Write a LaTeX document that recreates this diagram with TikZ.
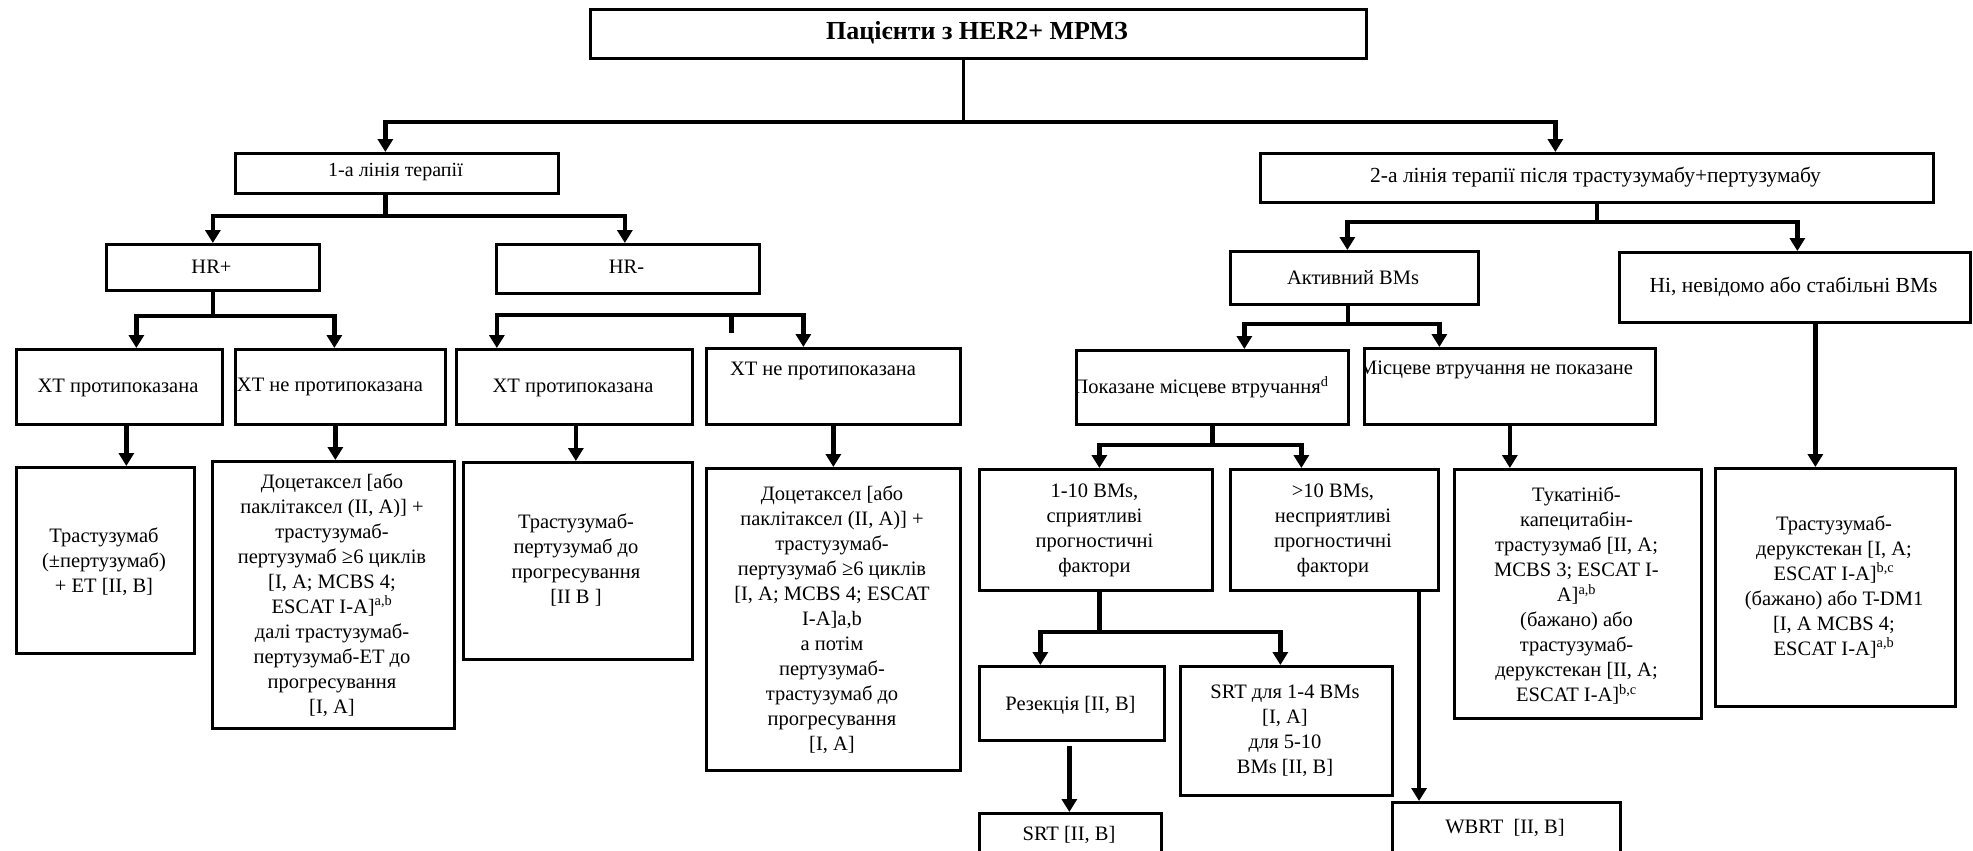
\documentclass[tikz,border=0pt]{standalone}
\usepackage{fontspec}
\setmainfont{Liberation Serif}
\usetikzlibrary{arrows.meta}

\tikzset{
  box/.style={draw, line width=2.7pt, inner sep=0pt, anchor=north west},
  txt/.style={align=center, inner sep=0pt, font=\fontsize{20.5}{25}\selectfont},
  link/.style={line width=4.3pt},
  stem/.style={line width=3pt},
  arr/.style={line width=4.3pt, -{Triangle[width=15pt,length=13pt]}},
}

% \bx{name}{x1}{y1}{x2}{y2}: framed box given by its corners (pixel units, y down)
\newcommand\bx[5]{%
  \node[box, minimum width={#4pt-#2pt}, minimum height={#5pt-#3pt}] (#1) at (#2,#3) {};}

\begin{document}
\begin{tikzpicture}[x=1pt,y=-1pt]
\useasboundingbox (0,0) rectangle (1973,851);
\clip (0,0) rectangle (1973,851);

% ---------- boxes ----------
\bx{top}{589}{8}{1365}{57}
\bx{L1}{234}{152}{557}{192}
\bx{L2}{1259}{152}{1932}{201}
\bx{HRp}{105}{243}{318}{289}
\bx{HRm}{495}{243}{758}{292}
\bx{Ap}{15}{348}{221}{423}
\bx{Bp}{234}{348}{444}{423}
\bx{Am}{455}{348}{691}{423}
\bx{Bm}{705}{347}{959}{423}
\bx{C1}{15}{466}{193}{652}
\bx{C2}{211}{460}{453}{727}
\bx{C3}{462}{461}{691}{658}
\bx{C4}{705}{467}{959}{769}
\bx{Act}{1229}{250}{1477}{303}
\bx{Ni}{1618}{251}{1969}{321}
\bx{Pok}{1075}{349}{1347}{423}
\bx{Mis}{1363}{347}{1654}{423}
\bx{R1}{978}{468}{1211}{589}
\bx{R2}{1229}{468}{1437}{589}
\bx{Tuk}{1453}{468}{1700}{717}
\bx{Tdx}{1714}{467}{1954}{705}
\bx{Rez}{978}{665}{1163}{739}
\bx{S14}{1179}{665}{1391}{794}
\bx{SRT}{978}{812}{1160}{880}
\bx{WB}{1391}{801}{1619}{880}

% ---------- texts ----------
\node[txt, font=\fontsize{26}{30}\selectfont\bfseries] (topt) at (977,33) {Пацієнти з HER2+ МРМЗ};
\node[txt, font=\fontsize{20}{25}\selectfont] (L1t) at (395.5,172) {1-а лінія терапії};
\node[txt, font=\fontsize{21.5}{25}\selectfont] (L2t) at (1595.5,177) {2-а лінія терапії після трастузумабу+пертузумабу};
\node[txt] (HRpt) at (211.5,267) {HR+};
\node[txt] (HRmt) at (626.5,267) {HR-};
\node[txt] (Apt) at (118,388) {ХТ протипоказана};
\node[txt] (Bpt) at (330,387) {ХТ не протипоказана};
\node[txt] (Amt) at (573,388) {ХТ протипоказана};
\node[txt] (Bmt) at (823,371) {ХТ не протипоказана};
\node[txt] (C1t) at (104,562) {Трастузумаб\\(±пертузумаб)\\+ ЕТ {[}II, B]};
\node[txt] (C2t) at (332,595) {Доцетаксел {[}або\\паклітаксел (II, A)] +\\трастузумаб-\\пертузумаб ≥6 циклів\\{}[I, A; MCBS 4;\\ESCAT I-A]\textsuperscript{a,b}\\далі трастузумаб-\\пертузумаб-ЕТ до\\прогресування\\{}[I, A]};
\node[txt] (C3t) at (576,560) {Трастузумаб-\\пертузумаб до\\прогресування\\{}[II B ]};
\node[txt] (C4t) at (832,620) {Доцетаксел {[}або\\паклітаксел (II, A)] +\\трастузумаб-\\пертузумаб ≥6 циклів\\{}[I, A; MCBS 4; ESCAT\\I-A]a,b\\а потім\\пертузумаб-\\трастузумаб до\\прогресування\\{}[I, A]};
\node[txt] (Actt) at (1353,278) {Активний BMs};
\node[txt, font=\fontsize{21.5}{25}\selectfont] (Nit) at (1793.5,287) {Ні, невідомо або стабільні BMs};
\begin{scope}
  \clip (Pok.north west) rectangle (Pok.south east);
  \node[txt] (Pokt) at (1201,387) {Показане місцеве втручання\textsuperscript{d}};
\end{scope}
\begin{scope}
  \clip (Mis.north west) rectangle (Mis.south east);
  \node[txt] (Mist) at (1496,370) {Місцеве втручання не показане};
\end{scope}
\node[txt] (R1t) at (1094.5,530) {1-10 BMs,\\сприятливі\\прогностичні\\фактори};
\node[txt] (R2t) at (1333,530) {>10 BMs,\\несприятливі\\прогностичні\\фактори};
\node[txt] (Tukt) at (1576.5,596) {Тукатініб-\\капецитабін-\\трастузумаб {[}II, A;\\MCBS 3; ESCAT I-\\A]\textsuperscript{a,b}\\(бажано) або\\трастузумаб-\\дерукстекан {[}II, A;\\ESCAT I-A]\textsuperscript{b,c}};
\node[txt] (Tdxt) at (1834,587) {Трастузумаб-\\дерукстекан {[}I, A;\\ESCAT I-A]\textsuperscript{b,c}\\(бажано) або T-DM1\\{}[I, A MCBS 4;\\ESCAT I-A]\textsuperscript{a,b}};
\node[txt] (Rezt) at (1070.5,705) {Резекція {[}II, B]};
\node[txt] (S14t) at (1285,730.5) {SRT для 1-4 BMs\\{}[I, A]\\для 5-10\\BMs {[}II, B]};
\node[txt] (SRTt) at (1069,835) {SRT {[}II, B]};
\node[txt] (WBt) at (1505,828) {WBRT\ \ {[}II, B]};

% ---------- connectors: left branch ----------
\draw[stem] ([xshift=-15pt]top.south) -- ++(0,62) coordinate (j0);
\draw[arr] (j0) -| ([xshift=-11.5pt]L1.north);
\draw[arr] (j0) -| ([xshift=-41.5pt]L2.north);

\draw[link] ([xshift=-11.5pt]L1.south) -- ++(0,21) coordinate (j1);
\draw[arr] (j1) -| (HRp.north);
\draw[arr] (j1) -| ([xshift=-3pt]HRm.north);

\draw[link] (HRp.south) -- ++(0,24) coordinate (j2);
\draw[arr] (j2) -| ([xshift=17pt]Ap.north);
\draw[arr] (j2) -| ([xshift=-6pt]Bp.north);

\coordinate (j3) at ([xshift=103.5pt,yshift=-20pt]HRm.south);
\draw[arr] (j3) -| ([xshift=-77.5pt]Am.north);
\draw[arr] (j3) -| ([xshift=-30pt]Bm.north);
\draw[link] (j3) -- ++(0,18);

\draw[arr] ([xshift=7pt]Ap.south) -- ([xshift=7pt]Ap.south |- C1.north);
\draw[arr] ([xshift=-5pt]Bp.south) -- ([xshift=-5pt]Bp.south |- C2.north);
\draw[arr] ([xshift=1.5pt]Am.south) -- ([xshift=1.5pt]Am.south |- C3.north);
\draw[arr] (Bm.south) -- (Bm.south |- C4.north);

% ---------- connectors: right branch ----------
\draw[link] (L2.south) -- ++(0,18) coordinate (j4);
\draw[arr] (j4) -| ([xshift=-7pt]Act.north);
\draw[arr] (j4) -| ([xshift=2.5pt]Ni.north);

\draw[link] ([xshift=-6.5pt]Act.south) -- ++(0,18) coordinate (j5);
\draw[arr] (j5) -| ([xshift=32pt]Pok.north);
\draw[arr] (j5) -| ([xshift=-70.5pt]Mis.north);

\draw[link] (Pok.south) -- ++(0,19.5) coordinate (j6);
\draw[arr] (j6) -| ([xshift=3.5pt]R1.north);
\draw[arr] (j6) -| ([xshift=-33pt]R2.north);

\draw[link] ([xshift=3.5pt]R1.south) -- ++(0,40) coordinate (j7);
\draw[arr] (j7) -| ([xshift=-31.5pt]Rez.north);
\draw[arr] (j7) -| ([xshift=-6pt]S14.north);

\draw[arr] ([xshift=-2.5pt,yshift=-4pt]Rez.south) -- ([xshift=-2.5pt]Rez.south |- SRT.north);
\draw[arr] ([xshift=84.7pt]R2.south) -- ([xshift=84.7pt]R2.south |- WB.north);
\draw[arr] (Mis.south) -- (Mis.south |- Tuk.north);
\draw[arr] ([xshift=20.5pt]Ni.south) -- ([xshift=20.5pt]Ni.south |- Tdx.north);
\end{tikzpicture}
\end{document}
